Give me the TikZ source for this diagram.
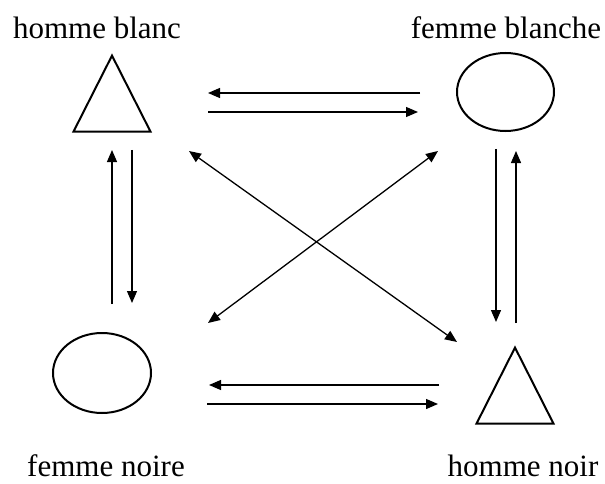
\documentclass[tikz,border=0pt]{standalone}
\usepackage{fontspec}
\setmainfont{Liberation Serif}
\usetikzlibrary{arrows.meta,shapes.geometric}

\begin{document}
\begin{tikzpicture}[
    x=1pt, y=-1pt,
    >={Triangle[length=12pt,width=10pt]},
    tri/.style={draw, line width=2pt, shape=isosceles triangle, shape border rotate=90, isosceles triangle stretches, minimum width=77pt, minimum height=76pt, inner sep=0pt, anchor=apex},
    oval/.style={draw, line width=2pt, ellipse, inner sep=0pt},
    lbl/.style={font=\fontsize{31}{37}\selectfont, anchor=base, inner sep=0pt},
    arrow/.style={->, line width=1.3pt},
    both/.style={<->, line width=1.3pt},
]
\useasboundingbox (0,0) rectangle (605,484);
% the four figures
\node[tri] (hb) at (112,53) {};
\node[oval, minimum width=97pt, minimum height=78pt] (fb) at (505.5,92) {};
\node[oval, minimum width=98pt, minimum height=80pt] (fn) at (102,373) {};
\node[tri] (hn) at (515,345) {};
% their names
\node[lbl] (hbl) at (97,39) {homme blanc};
\node[lbl] (fbl) at (506,39) {femme blanche};
\node[lbl] (fnl) at (106,476) {femme noire};
\node[lbl] (hnl) at (523,476) {homme noir};
% arrow ends
\coordinate (t1a) at (420,93);  \coordinate (t1b) at (208,93);
\coordinate (t2a) at (208,112); \coordinate (t2b) at (418,112);
\coordinate (b1a) at (439,385); \coordinate (b1b) at (209,385);
\coordinate (b2a) at (207,404); \coordinate (b2b) at (438,404);
\coordinate (l1a) at (112,304); \coordinate (l1b) at (112,150);
\coordinate (l2a) at (132,150); \coordinate (l2b) at (132,303);
\coordinate (r1a) at (496,149); \coordinate (r1b) at (496,322);
\coordinate (r2a) at (516,323); \coordinate (r2b) at (516,151);
\coordinate (d1a) at (189,151); \coordinate (d1b) at (457,342);
\coordinate (d2a) at (438,151); \coordinate (d2b) at (208,323);
% pairs between neighbours
\draw[arrow] (t1a) -- (t1b);
\draw[arrow] (t2a) -- (t2b);
\draw[arrow] (b1a) -- (b1b);
\draw[arrow] (b2a) -- (b2b);
\draw[arrow] (l1a) -- (l1b);
\draw[arrow] (l2a) -- (l2b);
\draw[arrow] (r1a) -- (r1b);
\draw[arrow] (r2a) -- (r2b);
% crossing diagonals
\draw[both] (d1a) -- (d1b);
\draw[both] (d2a) -- (d2b);
\end{tikzpicture}
\end{document}
